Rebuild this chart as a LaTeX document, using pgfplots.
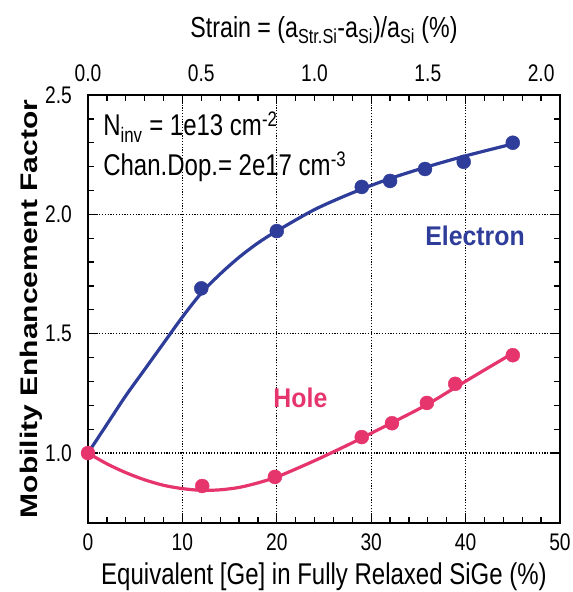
\documentclass[border=0pt]{standalone}
\usepackage{pgfplots}
\pgfplotsset{compat=1.18}
\usepackage{fontspec}
\setmainfont{Liberation Sans}[FakeStretch=0.8]
\newfontfamily\ylabfont{Liberation Sans}[FakeStretch=1.25]
\newfontfamily\labfont{Liberation Sans}[FakeStretch=0.92]
\definecolor{eblue}{HTML}{2E3C9A}
\definecolor{hpink}{HTML}{E6346C}
\begin{document}
\begin{tikzpicture}
\path[use as bounding box] (-88pt,-69pt) rectangle (485pt,523pt);
\pgfplotsset{every axis/.append style={
  /pgf/number format/assume math mode=true,
  /pgf/number format/fixed, /pgf/number format/fixed zerofill,
  /pgf/number format/precision=1,
  font=\fontsize{24}{27}\selectfont,
  scale only axis, width=472pt, height=428pt,
  xmin=0, xmax=50, ymin=0.707, ymax=2.5}}
\begin{axis}[
  axis line style={line width=1.7pt},
  tick style={line width=1.3pt, black},
  tick align=inside,
  major tick length=9pt, minor tick length=6pt,
  xtick={0,10,20,30,40,50},
  xticklabel style={/pgf/number format/precision=0, /pgf/number format/fixed zerofill=false,
    anchor=center, inner sep=0pt, yshift=-19pt},
  minor x tick num=4,
  ytick={1.0,1.5,2.0,2.5},
  yticklabel style={anchor=east, inner sep=0pt, xshift=-16pt},
  minor y tick num=4,
  grid=major,
  grid style={black, line width=1.2pt, dash pattern=on 1.2pt off 1.6pt},
  xlabel={Equivalent [Ge] in Fully Relaxed SiGe (\%)},
  xlabel style={at={(axis description cs:0.5,-0.126)}, anchor=center, font=\fontsize{30}{32}\selectfont},
  ylabel={\ylabfont\bfseries Mobility Enhancement Factor},
  ylabel style={at={(axis description cs:-0.1208,0.5)}, anchor=center, font=\fontsize{24}{26}\selectfont},
  clip=false,
]
% electron fit
\addplot[eblue, line width=3.2pt, smooth, no marks] coordinates {
(0,1.00) (2,1.12) (4,1.24) (6,1.35) (8,1.46) (10,1.57) (12,1.67) (14,1.75)
(16,1.82) (18,1.88) (20,1.93) (24,2.02) (28,2.09) (32,2.15) (36,2.20) (40,2.245) (45,2.295)};
\addplot[eblue, only marks, mark=*, mark size=7pt] coordinates {
(12,1.69) (20,1.93) (29,2.115) (32,2.14) (35.7,2.19) (39.8,2.22) (45,2.30)};
% hole fit
\addplot[hpink, line width=3.2pt, smooth, no marks] coordinates {
(0,1.00) (2,0.955) (4,0.918) (6,0.888) (8,0.865) (10,0.851) (12,0.844) (14,0.846)
(16,0.856) (18,0.875) (20,0.900) (22,0.933) (24,0.968) (26,1.005) (28,1.043)
(30,1.083) (33,1.143) (36,1.205) (39,1.277) (42,1.348) (45,1.418)};
\addplot[hpink, only marks, mark=*, mark size=7pt] coordinates {
(0,1.00) (12.1,0.862) (19.8,0.90) (29,1.067) (32.2,1.125) (35.9,1.21) (38.9,1.29) (45,1.41)};
% labels
\node[anchor=base west, inner sep=0pt, font=\fontsize{30}{32}\selectfont] at (axis cs:1.6,2.33) {N\textsubscript{inv} = 1e13 cm\textsuperscript{-2}};
\node[anchor=base west, inner sep=0pt, font=\fontsize{30}{32}\selectfont] at (axis cs:1.6,2.163) {Chan.Dop.= 2e17 cm\textsuperscript{-3}};
\node[font=\fontsize{27}{29}\selectfont\labfont\bfseries, text=eblue] at (axis cs:41.0,1.908) {Electron};
\node[font=\fontsize{27}{29}\selectfont\labfont\bfseries, text=hpink] at (axis cs:22.5,1.23) {Hole};
\end{axis}
\begin{axis}[
  axis x line*=top, axis y line=none,
  xtick={0,12,24,36,48},
  xticklabels={0.0,0.5,1.0,1.5,2.0},
  major tick length=0pt,
  xticklabel style={anchor=center, inner sep=0pt, yshift=22pt},
  xlabel={Strain = (a\textsubscript{Str.Si}-a\textsubscript{Si})/a\textsubscript{Si} (\%)},
  xlabel style={at={(axis description cs:0.5,1.152)}, anchor=center, font=\fontsize{29}{31}\selectfont},
  axis line style={draw=none},
]
\addplot[draw=none] coordinates {(0,1) (50,1)};
\end{axis}
\end{tikzpicture}
\end{document}
